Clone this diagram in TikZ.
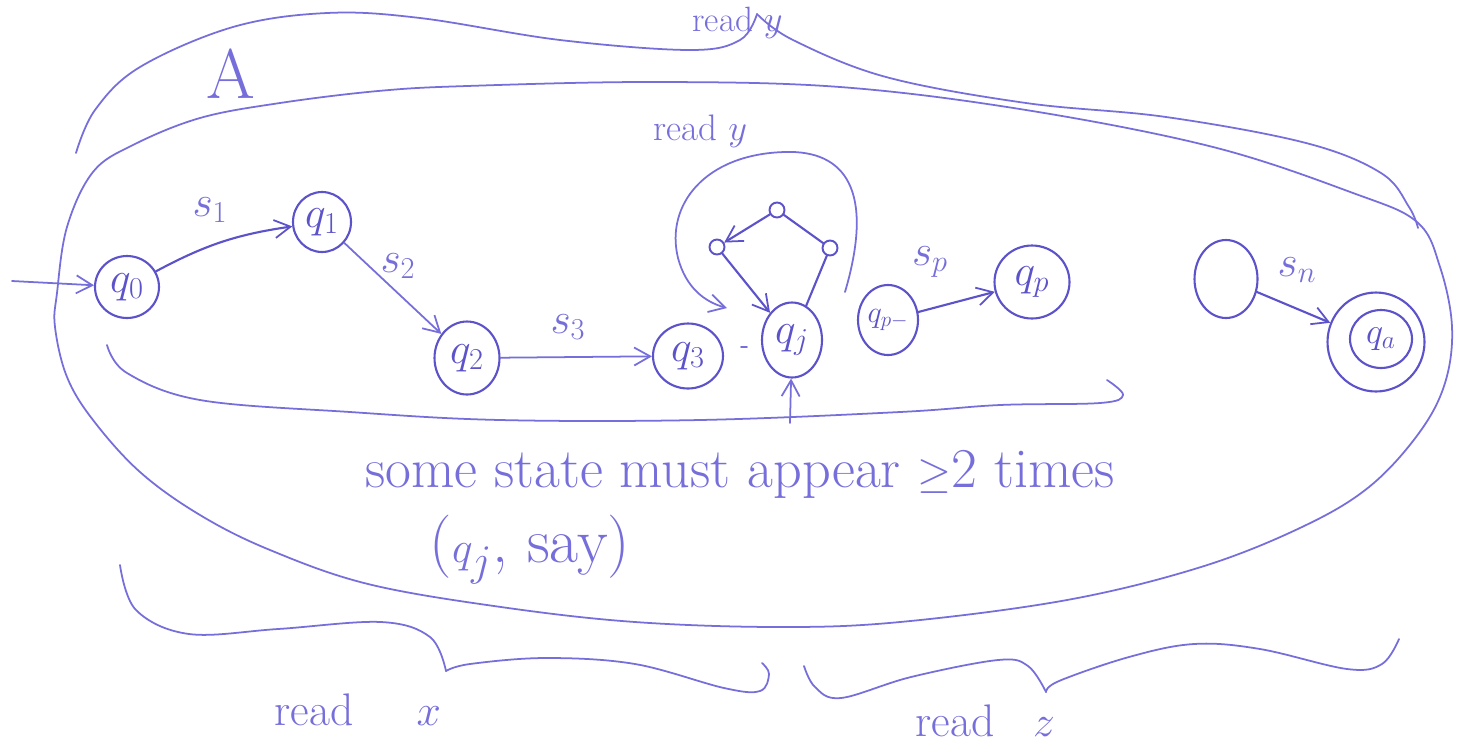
\documentclass[tikz,border=0pt]{standalone}
\usetikzlibrary{arrows.meta,shapes.geometric}
\definecolor{penc}{RGB}{118,110,218}
\definecolor{pend}{RGB}{92,82,202}
\tikzset{
  pen/.style={draw=penc, line width=1pt},
  penthick/.style={draw=pend, line width=1.2pt},
  arr/.style={-{Straight Barb[length=0.32cm,width=0.36cm,line width=1pt]}},
  st/.style={ellipse, draw=pend, line width=1.2pt, inner sep=0pt, text=pend, font=\fontsize{24}{26}\selectfont},
  tiny/.style={circle, draw=pend, line width=1.1pt, inner sep=0pt, minimum size=0.3cm},
  lbl/.style={text=penc, inner sep=0pt, font=\fontsize{24}{26}\selectfont},
  txt/.style={text=penc, inner sep=0pt, font=\fontsize{32}{36}\selectfont},
  rd/.style={text=penc, inner sep=0pt, font=\fontsize{26}{30}\selectfont},
}
\begin{document}
\begin{tikzpicture}[x=0.02cm, y=-0.02cm, line cap=round, line join=round]
\clip (0,0) rectangle (1463,748);
\fill[white] (0,0) rectangle (1463,748);

% big ellipse (automaton A)
\draw[pen] plot[smooth cycle, tension=0.6] coordinates {
 (57,293) (67,227) (93,172) (133,145) (200,118) (280,103) (378,91) (467,86)
 (653,82) (840,87) (1026,110) (1213,147) (1353,193) (1417,222) (1440,267)
 (1452,327) (1445,383) (1419,433) (1369,487) (1302,527) (1201,567) (1067,600)
 (900,622) (780,627) (635,622) (501,607) (368,584) (270,550) (200,515)
 (140,472) (93,420) (67,377) (55,327)};

\node[txt, font=\fontsize{40}{44}\selectfont] (A) at (231,74) {A};

% top brace: read y
\draw[pen] plot[smooth, tension=0.6] coordinates {
 (76,153) (95,110) (140,67) (233,27) (327,13) (420,18) (560,40)
 (690,50) (740,40) (757,14)};
\draw[pen] plot[smooth, tension=0.6] coordinates {
 (757,14) (793,40) (886,77) (1026,103) (1166,117) (1306,143) (1381,173)
 (1409,207) (1418,228)};
\node[rd, font=\fontsize{20}{22}\selectfont, anchor=base west] (ry) at (692,31) {read $y$};

% states
\node[st, minimum width=1.28cm, minimum height=1.24cm] (q0) at (127,287) {$q_0$};
\node[st, minimum width=1.16cm, minimum height=1.2cm] (q1) at (322,222) {$q_1$};
\node[st, minimum width=1.3cm, minimum height=1.46cm] (q2) at (467,358) {$q_2$};
\node[st, minimum width=1.4cm, minimum height=1.3cm] (q3) at (688,356) {$q_3$};
\node[st, minimum width=1.2cm, minimum height=1.5cm] (qj) at (792,340) {$q_j$};
\node[st, minimum width=1.2cm, minimum height=1.4cm, font=\fontsize{17}{19}\selectfont] (qpm) at (888,320) {$q_{p-}$};
\node[st, minimum width=1.5cm, minimum height=1.46cm] (qp) at (1032,282) {$q_p$};
\node[st, minimum width=1.26cm, minimum height=1.56cm] (e) at (1226,279) {};
\node[st, minimum width=1.94cm, minimum height=1.98cm] (qa) at (1376,342) {};
\node[st, minimum width=1.24cm, minimum height=1.16cm, font=\fontsize{20}{22}\selectfont] (qai) at (1381,339) {$q_a$};

% small states of the cycle
\node[tiny] (tl) at (717,247) {};
\node[tiny] (tt) at (777,210) {};
\node[tiny] (tr) at (830,248) {};

% transitions
\coordinate (in) at (12,281);
\draw[pen, arr] (in) -- (q0);
\draw[penthick, arr] (q0) to[bend left=10] (q1);
\node[lbl] (s1) at (210,210) {$s_1$};
\draw[pen, arr] (q1) -- (q2);
\node[lbl] (s2) at (398,266) {$s_2$};
\draw[pen, arr] (q2) -- (q3);
\node[lbl] (s3) at (568,327) {$s_3$};
\draw[penthick, arr] (qpm) -- (qp);
\node[lbl] (sp) at (930,262) {$s_p$};
\draw[penthick, arr] (e) -- (qa);
\node[lbl] (sn) at (1297,270) {$s_n$};

% cycle through q_j
\draw[penthick] (qj) -- (tr);
\draw[penthick] (tr) -- (tt);
\draw[penthick, arr] (tt) -- (tl);
\draw[penthick, arr] (tl) -- (qj);
\draw[pen] (741,347) -- (747,347);

% loop "read y"
\coordinate (la) at (845,292);
\coordinate (lb) at (727,308);
\draw[pen, arr] (la) .. controls (875,190) and (845,150) .. (785,152)
  .. controls (705,154) and (665,205) .. (678,258)
  .. controls (686,288) and (705,302) .. (lb);
\node[rd, font=\fontsize{21}{24}\selectfont, anchor=base west] (ry2) at (653,140) {read $y$};

% upward arrow into q_j
\coordinate (ub) at (790,423);
\draw[pen, arr] (ub) -- (qj);

% bracket under the run
\draw[pen] plot[smooth, tension=0.6] coordinates {
 (107,345) (127,373) (200,400) (350,412) (500,420) (700,420) (900,412)
 (1000,405) (1100,403) (1123,395) (1107,380)};

\node[txt, anchor=base] (t1) at (740,487) {some state must appear $\geq$2 times};
\node[txt, font=\fontsize{36}{40}\selectfont, anchor=base] (t2) at (530,562) {($q_j$, say)};

% bottom braces
\draw[pen] plot[smooth, tension=0.6] coordinates {
 (120,565) (136,610) (189,634) (278,629) (381,622) (430,637) (446,671)};
\draw[pen] plot[smooth, tension=0.6] coordinates {
 (446,671) (470,664) (546,658) (635,664) (724,688) (760,691) (769,674) (762,663)};
\node[rd, anchor=base west] (rx) at (274,725) {read\hspace{36pt}$x$};

\draw[pen] plot[smooth, tension=0.6] coordinates {
 (804,666) (815,687) (841,698) (911,677) (998,660) (1028,666) (1046,692)};
\draw[pen] plot[smooth, tension=0.6] coordinates {
 (1046,692) (1059,681) (1129,657) (1194,644) (1260,649) (1347,669) (1382,664) (1399,639)};
\node[rd, anchor=base west] (rz) at (915,736) {read\hspace{22pt}$z$};
\end{tikzpicture}
\end{document}
